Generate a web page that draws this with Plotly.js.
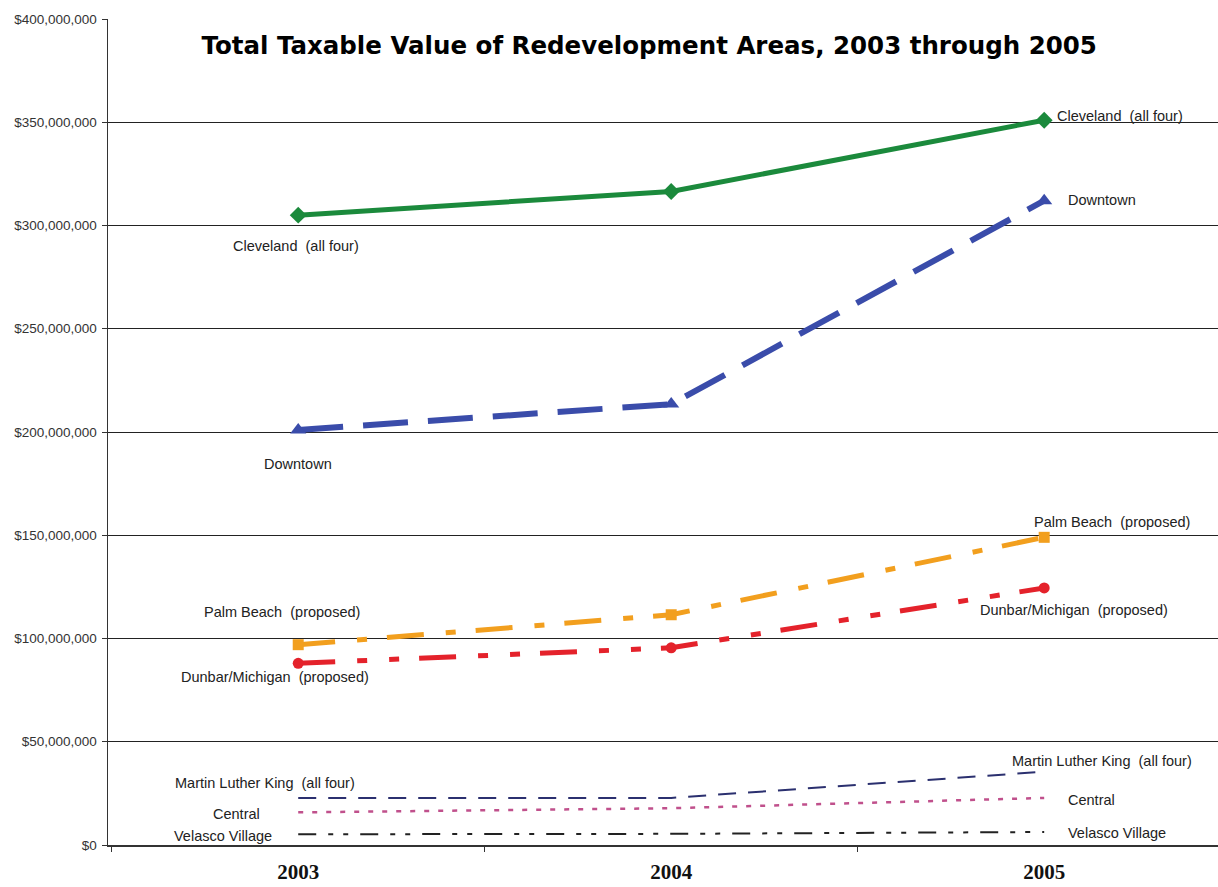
<!DOCTYPE html>
<html>
<head>
<meta charset="utf-8">
<script src="https://cdn.plot.ly/plotly-3.0.1.min.js"></script>
<style>
  html, body { margin: 0; padding: 0; background: #fff; }
  #chart { width: 1218px; height: 887px; }
</style>
</head>
<body>
<div id="chart"></div>
<script>
// ---- Data ----
const years = ['2003', '2004', '2005'];
const seriesNames = [
  'Cleveland\u00a0 (all four)',
  'Downtown',
  'Palm Beach\u00a0 (proposed)',
  'Dunbar/Michigan\u00a0 (proposed)',
  'Martin Luther King\u00a0 (all four)',
  'Central',
  'Velasco Village'
];
const cleveland = [305000000, 316500000, 351000000];
const downtown = [201000000, 213500000, 312000000];
const palmBeach = [97000000, 111500000, 149000000];
const dunbar = [88000000, 95500000, 124500000];
const mlk = [22800000, 22800000, 35500000];
const central = [15800000, 17800000, 22800000];
const velasco = [5200000, 5400000, 6300000];
const yTickVals = [0, 50000000, 100000000, 150000000, 200000000, 250000000, 300000000, 350000000, 400000000];

const values = [cleveland, downtown, palmBeach, dunbar, mlk, central, velasco];

// ---- Styles ----
const styles = [
  {color: '#1b8a3c', width: 5, dash: 'solid', symbol: 'diamond', size: 13},
  {color: '#3a4caa', width: 6, dash: '45px,20px', symbol: 'triangle-up', size: 14},
  {color: '#f29f1e', width: 5, dash: '37px,22px,10px,20px', symbol: 'square', size: 11},
  {color: '#e4222b', width: 5, dash: '37px,22px,10px,22px,10px,20px', symbol: 'circle', size: 11},
  {color: '#2b306f', width: 2, dash: '18px,12px', symbol: null},
  {color: '#c0508c', width: 2.5, dash: '5px,9px', symbol: null},
  {color: '#222222', width: 2, dash: '18px,12px,5px,10px,5px,12px', symbol: null}
];

// label placement (start label, end label): [xanchor, xshift, yshift]
const labelPos = [
  [['center', -2, -31], ['left', 11, 4]],
  [['center', 0, -34], ['left', 22, 1]],
  [['center', -16, 33], ['left', -12, 15]],
  [['center', -23, -14], ['left', -66, -22]],
  [['right', 59, 15], ['left', -34, 11]],
  [['right', -36, -2], ['left', 22, -2]],
  [['right', -24, -2], ['left', 22, -1]]
];

const xIdx = years.map((_, i) => i);

const traces = values.map((v, i) => {
  const s = styles[i];
  const t = {
    x: xIdx,
    y: v,
    type: 'scatter',
    mode: s.symbol ? 'lines+markers' : 'lines',
    name: seriesNames[i],
    line: {color: s.color, width: s.width, dash: s.dash},
    hoverinfo: 'skip'
  };
  if (s.symbol) t.marker = {symbol: s.symbol, size: s.size, color: s.color};
  return t;
});

const annotations = [];
values.forEach((v, i) => {
  [0, 2].forEach((idx, k) => {
    const p = labelPos[i][k];
    annotations.push({
      x: idx, y: v[idx], xref: 'x', yref: 'y',
      text: seriesNames[i], showarrow: false,
      xanchor: p[0], yanchor: 'middle', xshift: p[1], yshift: p[2],
      font: {family: 'Liberation Sans, Arial, sans-serif', size: 14.5, color: '#222'}
    });
  });
});

const layout = {
  width: 1218, height: 887,
  margin: {l: 108, r: 0, t: 19, b: 42},
  paper_bgcolor: '#fff', plot_bgcolor: '#fff',
  showlegend: false,
  title: {
    text: 'Total Taxable Value of Redevelopment Areas, 2003 through 2005',
    font: {family: 'DejaVu Sans, Arial Black, sans-serif', size: 24.5, color: '#000', weight: 'bold'},
    x: 0.533, xref: 'container', xanchor: 'center',
    y: 1 - 45 / 887, yref: 'container', yanchor: 'middle'
  },
  xaxis: {
    range: [-0.51, 2.466],
    tickmode: 'array', tickvals: xIdx, ticktext: years,
    ticks: '', showgrid: false, zeroline: false,
    showline: true, linecolor: '#333', linewidth: 1.5,
    tickfont: {family: 'Liberation Serif, DejaVu Serif, serif', size: 21, color: '#111', weight: 'bold'},
    ticklabelstandoff: 7,
    minor: {ticks: 'outside', tickmode: 'linear', tick0: 0.5, dtick: 1, ticklen: 5, tickcolor: '#333', showgrid: false}
  },
  yaxis: {
    range: [0, 400000000],
    tickmode: 'array', tickvals: yTickVals,
    tickformat: '$,.0f',
    ticks: 'outside', ticklen: 5, tickcolor: '#333',
    showgrid: true, gridcolor: '#222', gridwidth: 1,
    zeroline: false,
    showline: true, linecolor: '#333', linewidth: 1.5,
    tickfont: {family: 'Liberation Sans, Arial, sans-serif', size: 13.5, color: '#333'},
    ticklabelstandoff: 2
  },
  annotations: annotations
};

Plotly.newPlot('chart', traces, layout, {displayModeBar: false, staticPlot: true});
</script>
</body>
</html>
